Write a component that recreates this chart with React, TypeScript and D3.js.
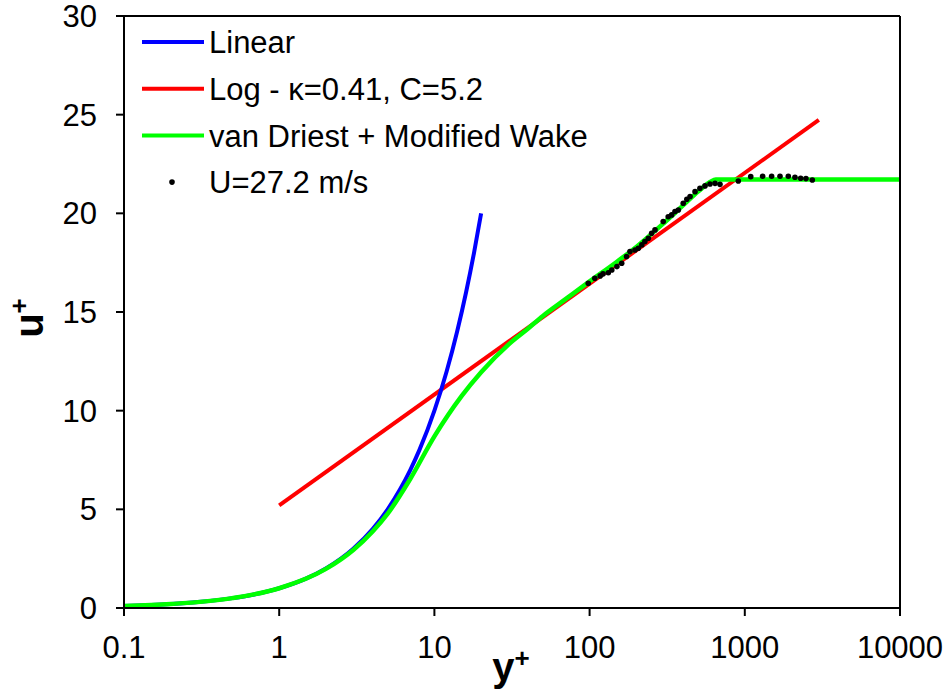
import React from "react";
import * as d3 from "d3";

// Linear law u+ = y+
const linearY = [0.1, 0.2, 0.3, 0.5, 0.7, 1, 1.5, 2, 3, 4, 5, 6, 7, 8, 10, 12, 14, 16, 18, 20];
const linearU = [0.1, 0.2, 0.3, 0.5, 0.7, 1, 1.5, 2, 3, 4, 5, 6, 7, 8, 10, 12, 14, 16, 18, 20];

// Log law kappa=0.41, C=5.2 (straight on semilog axes)
const logY = [1, 3000];
const logU = [5.2, 24.73];

// van Driest + modified wake
const vdY = [0.1, 0.2, 0.5, 1, 2, 3, 4, 5, 7, 10, 15, 20, 30, 40, 50, 70, 100, 150, 200, 300, 400, 500, 600, 650, 10000];
const vdU = [0.1, 0.2, 0.5, 1.0, 1.98, 2.94, 3.88, 4.78, 6.55, 8.7, 10.75, 11.95, 13.35, 14.15, 14.8, 15.65, 16.55, 17.55, 18.3, 19.5, 20.4, 21.1, 21.6, 21.72, 21.72];

// Measured data U = 27.2 m/s
const dataY = [98, 108, 117, 122, 132, 139, 150, 161, 173, 182, 196, 206, 217, 227, 239, 251, 264, 298, 321, 338, 355, 373, 401, 423, 444, 478, 514, 554, 597, 643, 692, 908, 1092, 1303, 1489, 1686, 1907, 2105, 2291, 2478, 2723];
const dataU = [16.46, 16.71, 16.83, 16.93, 16.99, 17.13, 17.3, 17.47, 17.81, 18.06, 18.14, 18.23, 18.4, 18.57, 18.74, 18.99, 19.16, 19.58, 19.83, 19.92, 20.09, 20.17, 20.51, 20.71, 20.85, 21.1, 21.27, 21.39, 21.49, 21.52, 21.47, 21.64, 21.86, 21.88, 21.88, 21.88, 21.88, 21.83, 21.78, 21.76, 21.69];

const xTicks = [0.1, 1, 10, 100, 1000, 10000];
const xTickLabels = ["0.1", "1", "10", "100", "1000", "10000"];
const yTicks = [0, 5, 10, 15, 20, 25, 30];

const legendLabels = ["Linear", "Log - \u03BA=0.41, C=5.2", "van Driest + Modified Wake", "U=27.2 m/s"];
const legendColors = ["#0000ff", "#ff0000", "#00ff00", "#000000"];

export default function App() {
  const left = 124, right = 900, top = 16, bottom = 608;
  const x = d3.scaleLog().domain([0.1, 10000]).range([left, right]);
  const y = d3.scaleLinear().domain([0, 30]).range([bottom, top]);
  const font = "'Liberation Sans', Arial, sans-serif";

  const mk = (xs: number[], us: number[], curve: any) =>
    d3.line<number>()
      .x((_, i) => x(xs[i]))
      .y((_, i) => y(us[i]))
      .curve(curve)(xs) as string;

  const linearPath = mk(linearY, linearU, d3.curveMonotoneX);
  const logPath = mk(logY, logU, d3.curveLinear);
  const vdPath = mk(vdY, vdU, d3.curveMonotoneX);

  return (
    <svg width={950} height={690} style={{ position: "absolute", left: 0, top: 0, background: "#fff" }}>
      <rect x={0} y={0} width={950} height={690} fill="#fff" />
      {/* curves */}
      <path d={logPath} fill="none" stroke="#ff0000" strokeWidth={4} />
      <path d={linearPath} fill="none" stroke="#0000ff" strokeWidth={4} />
      <path d={vdPath} fill="none" stroke="#00ff00" strokeWidth={4.5} />
      {dataY.map((v, i) => (
        <circle key={i} cx={x(v)} cy={y(dataU[i])} r={2.8} fill="#000" />
      ))}

      {/* frame */}
      <line x1={left} x2={right} y1={top} y2={top} stroke="#000" strokeWidth={2} />
      <line x1={right} x2={right} y1={top} y2={bottom} stroke="#000" strokeWidth={2} />
      <line x1={left} x2={left} y1={top} y2={bottom} stroke="#000" strokeWidth={2} />
      <line x1={left} x2={right} y1={bottom} y2={bottom} stroke="#000" strokeWidth={2} />

      {/* y axis */}
      {yTicks.map((t) => (
        <g key={t}>
          <line x1={left - 8} x2={left} y1={y(t)} y2={y(t)} stroke="#000" strokeWidth={2} />
          <text x={97} y={y(t)} dy="0.36em" textAnchor="end" fontFamily={font} fontSize={31} fill="#000">
            {t}
          </text>
        </g>
      ))}
      {/* x axis */}
      {xTicks.map((t, i) => (
        <g key={t}>
          <line x1={x(t)} x2={x(t)} y1={bottom} y2={bottom + 8} stroke="#000" strokeWidth={2} />
          <text x={x(t)} y={658} textAnchor="middle" fontFamily={font} fontSize={31} fill="#000">
            {xTickLabels[i]}
          </text>
        </g>
      ))}

      {/* axis titles */}
      <text x={511} y={681} textAnchor="middle" fontFamily={font} fontSize={40} fontWeight="bold" fill="#000">
        y<tspan dy={-14} fontSize={26}>+</tspan>
      </text>
      <text transform="translate(43,318) rotate(-90)" textAnchor="middle" fontFamily={font} fontSize={40} fontWeight="bold" fill="#000">
        u<tspan dy={-15} fontSize={26}>+</tspan>
      </text>

      {/* legend */}
      {legendLabels.map((lab, i) => {
        const ly = 42 + i * 46.7;
        return (
          <g key={lab}>
            {i < 3 ? (
              <line x1={142} x2={204} y1={ly} y2={ly} stroke={legendColors[i]} strokeWidth={4} />
            ) : (
              <circle cx={172} cy={ly} r={2.8} fill="#000" />
            )}
            <text x={209} y={ly} dy="0.36em" fontFamily={font} fontSize={31} fill="#000">
              {lab}
            </text>
          </g>
        );
      })}
    </svg>
  );
}
